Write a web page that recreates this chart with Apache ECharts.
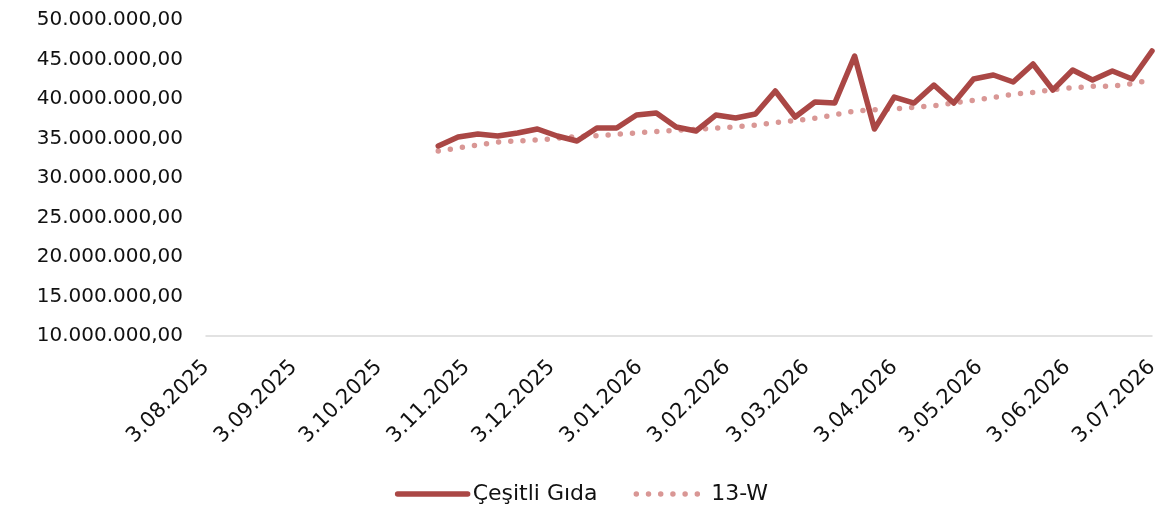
<!DOCTYPE html>
<html>
<head>
<meta charset="utf-8">
<script src="https://cdn.jsdelivr.net/npm/echarts@6/dist/echarts.min.js"></script>
<style>
html,body{margin:0;padding:0;background:#fff;}
#chart{width:1163px;height:511px;}
</style>
</head>
<body>
<div id="chart"></div>
<script>
// Weekly dates (Fridays)
const startDate = '2025-10-24';
const weekCount = 37;
const dates = [];
(function(){
  const d0 = new Date(startDate + 'T00:00:00');
  for (let i = 0; i < weekCount; i++) {
    const d = new Date(d0.getTime());
    d.setDate(d0.getDate() + i * 7);
    dates.push(d.getTime());
  }
})();

const seriesMain = [34.05,35.19,35.57,35.32,35.70,36.20,35.32,34.68,36.33,36.33,
  37.97,38.23,36.46,35.95,37.97,37.59,38.10,41.01,37.72,39.62,
  39.49,45.44,36.20,40.25,39.49,41.77,39.49,42.53,43.04,42.15,
  44.43,41.14,43.67,42.41,43.54,42.53,46.08];
const seriesMA = [33.42,33.80,34.18,34.56,34.68,34.81,35.03,35.23,35.36,35.52,
  35.72,35.89,36.03,36.16,36.30,36.49,36.70,37.01,37.28,37.56,
  38.01,38.48,38.62,38.73,38.94,39.14,39.49,39.85,40.20,40.59,
  40.84,41.19,41.42,41.61,41.60,41.95,42.41];

const tickDates = ['2025-08-03','2025-09-03','2025-10-03','2025-11-03','2025-12-03','2026-01-03',
  '2026-02-03','2026-03-03','2026-04-03','2026-05-03','2026-06-03','2026-07-03'];
const tickLabels = ['3.08.2025','3.09.2025','3.10.2025','3.11.2025','3.12.2025','3.01.2026',
  '3.02.2026','3.03.2026','3.04.2026','3.05.2026','3.06.2026','3.07.2026'];
const yTicks = [10000000,15000000,20000000,25000000,30000000,35000000,40000000,45000000,50000000];

const tickTimes = tickDates.map(s => new Date(s + 'T00:00:00').getTime());

function fmtY(v){
  const s = Math.round(v).toString().replace(/\B(?=(\d{3})+(?!\d))/g, '.');
  return s + ',00';
}

const chart = echarts.init(document.getElementById('chart'));
const FONT = 'DejaVu Sans';
chart.setOption({
  animation: false,
  textStyle: {fontFamily: FONT},
  grid: {left: 206, right: 11, top: 20, bottom: 175, containLabel: false},
  xAxis: {
    type: 'value',
    min: tickTimes[0],
    max: tickTimes[tickTimes.length - 1],
    scale: true,
    axisLine: {show: true, onZero: false, lineStyle: {color: '#d9d9d9', width: 1.5}},
    axisTick: {show: false, customValues: tickTimes},
    splitLine: {show: false},
    axisLabel: {
      customValues: tickTimes,
      rotate: 45,
      margin: 28,
      fontSize: 21,
      fontFamily: FONT,
      color: '#111',
      hideOverlap: false,
      showMinLabel: true,
      showMaxLabel: true,
      formatter: function(v){
        const i = tickTimes.findIndex(t => Math.abs(t - v) < 3600000);
        return i >= 0 ? tickLabels[i] : '';
      }
    }
  },
  yAxis: {
    type: 'value',
    min: yTicks[0],
    max: yTicks[yTicks.length - 1],
    interval: 5000000,
    axisLine: {show: false},
    axisTick: {show: false},
    splitLine: {show: false},
    axisLabel: {fontSize: 20, fontFamily: FONT, color: '#111', margin: 23, formatter: fmtY}
  },
  legend: {
    bottom: 1,
    left: 'center',
    itemWidth: 70,
    itemHeight: 10,
    itemGap: 36,
    itemStyle: {opacity: 0},
    lineStyle: {width: 5.5, cap: 'round'},
    textStyle: {fontSize: 22, fontFamily: FONT, color: '#111'},
    data: ['Çeşitli Gıda', '13-W']
  },
  series: [
    {
      name: 'Çeşitli Gıda',
      type: 'line',
      symbol: 'none',
      data: dates.map((d, i) => [d, seriesMain[i] * 1e6]),
      lineStyle: {color: '#AA4745', width: 5.5, join: 'round', cap: 'round'},
      itemStyle: {color: '#AA4745'},
      z: 3
    },
    {
      name: '13-W',
      type: 'line',
      symbol: 'none',
      data: dates.map((d, i) => [d, seriesMA[i] * 1e6]),
      lineStyle: {color: '#D99795', width: 5.5, type: [0, 12.2], cap: 'round'},
      itemStyle: {color: '#D99795'},
      z: 2
    }
  ]
});
</script>
</body>
</html>
